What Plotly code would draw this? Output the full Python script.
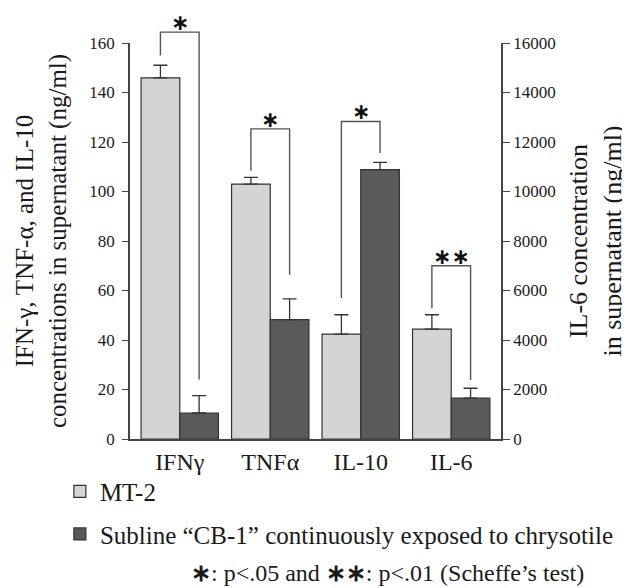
import plotly.graph_objects as go

# ---------------- data ----------------
categories = ["IFNγ", "TNFα", "IL-10", "IL-6"]
left_cats = ["IFNγ", "TNFα", "IL-10"]
right_cats = ["IL-6"]

mt2_left = [145.9, 103.0, 42.4]
mt2_left_err = [5.1, 2.7, 7.8]
cb1_left = [10.5, 48.2, 108.8]
cb1_left_err = [7.0, 8.4, 3.0]

mt2_il6 = [4440]
mt2_il6_err = [580]
cb1_il6 = [1650]
cb1_il6_err = [400]

left_ticks = [0, 20, 40, 60, 80, 100, 120, 140, 160]
right_ticks = [0, 2000, 4000, 6000, 8000, 10000, 12000, 14000, 16000]

# significance brackets (values in the unit of the axis each group uses)
bracket_top = [164.4, 125.3, 128.3, 7000]
bracket_left_end = [154.9, 108.4, 57.0, 5280]
bracket_right_end = [24.0, 66.4, 115.6, 2380]
bracket_axis_max = [160, 160, 160, 16000]
bracket_label = ["∗", "∗", "∗", "∗∗"]

series_names = ["MT-2", "Subline “CB-1” continuously exposed to chrysotile"]
footnote = "<b>∗</b>: p<.05 and <b>∗∗</b>: p<.01 (Scheffe’s test)"

# ---------------- style ----------------
LIGHT = "#d4d4d4"
DARK = "#5a5a5a"
EDGE = "#333333"
SERIF = "Liberation Serif"
TXT = "#1a1a1a"

fig = go.Figure()

def add_bar(x, y, err, name, color, axis, group, show):
    fig.add_trace(go.Bar(
        x=x, y=y, name=name, yaxis=axis,
        offsetgroup=group, legendgroup=group, showlegend=show,
        marker=dict(color=color, line=dict(color=EDGE, width=1.2)),
        error_y=dict(type="data", symmetric=False, array=err,
                     arrayminus=[0] * len(err), color=EDGE,
                     thickness=1.3, width=7),
    ))

add_bar(left_cats, mt2_left, mt2_left_err, series_names[0], LIGHT, "y", "mt2", True)
add_bar(left_cats, cb1_left, cb1_left_err, series_names[1], DARK, "y", "cb1", True)
add_bar(right_cats, mt2_il6, mt2_il6_err, series_names[0], LIGHT, "y2", "mt2", False)
add_bar(right_cats, cb1_il6, cb1_il6_err, series_names[1], DARK, "y2", "cb1", False)

BARGAP = 0.145
half = (1 - BARGAP) / 4  # offset from category centre to bar centre

shapes = []
annotations = []
for i, cat in enumerate(categories):
    m = bracket_axis_max[i]
    xl, xr = i - half, i + half
    yt = bracket_top[i] / m
    yl = bracket_left_end[i] / m
    yr = bracket_right_end[i] / m
    shapes.append(dict(
        type="path", xref="x", yref="paper",
        path=f"M {xl},{yl} L {xl},{yt} L {xr},{yt} L {xr},{yr}",
        line=dict(color="#555555", width=1.4),
    ))
    annotations.append(dict(
        x=i, y=yt, xref="x", yref="paper", text=f"<b>{bracket_label[i]}</b>",
        showarrow=False, xanchor="center", yanchor="bottom", yshift=-5,
        font=dict(family="DejaVu Sans", size=22, color="#111111"),
    ))

annotations.append(dict(
    x=0.693, y=-0.338, xref="paper", yref="paper", text=footnote,
    showarrow=False, xanchor="center", yanchor="middle",
    font=dict(family=SERIF, size=24, color=TXT),
))

axis_common = dict(
    showline=True, linecolor="#444444", linewidth=1.5,
    showgrid=False, zeroline=False, ticks="outside",
    tickcolor="#444444", tickwidth=1.2,
    tickfont=dict(family=SERIF, size=17, color=TXT),
)

# the page body adds an 8px offset; the figure is sized so that it still fills the window
fig.update_layout(
    width=622, height=580,
    margin=dict(l=122, r=129, t=35, b=149, autoexpand=False),
    paper_bgcolor="white", plot_bgcolor="white",
    barmode="group", bargap=BARGAP, bargroupgap=0,
    xaxis=dict(
        type="category", categoryorder="array", categoryarray=categories,
        range=[-0.55, 3.55], showline=True, linecolor="#444444", linewidth=1.5,
        ticks="", showgrid=False, ticklabelstandoff=0,
        tickfont=dict(family=SERIF, size=24, color=TXT),
    ),
    yaxis=dict(
        range=[0, 160], tickvals=left_ticks, ticklen=6, ticklabelstandoff=4,
        title=dict(text="IFN-γ, TNF-α, and IL-10<br>concentrations in supernatant (ng/ml)",
                   font=dict(family=SERIF, size=25, color=TXT), standoff=16),
        **axis_common,
    ),
    yaxis2=dict(
        range=[0, 16000], tickvals=right_ticks, tickformat="d", ticklen=7,
        overlaying="y", side="right", anchor="x",
        title=dict(text="IL-6 concentration<br>in supernatant (ng/ml)",
                   font=dict(family=SERIF, size=26, color=TXT), standoff=14),
        **axis_common,
    ),
    legend=dict(
        x=-0.189, y=-0.075, xanchor="left", yanchor="top",
        traceorder="grouped", tracegroupgap=7,
        font=dict(family=SERIF, size=25, color=TXT),
        bgcolor="rgba(0,0,0,0)",
    ),
    shapes=shapes,
    annotations=annotations,
    showlegend=True,
)

fig.write_html("out.html")
